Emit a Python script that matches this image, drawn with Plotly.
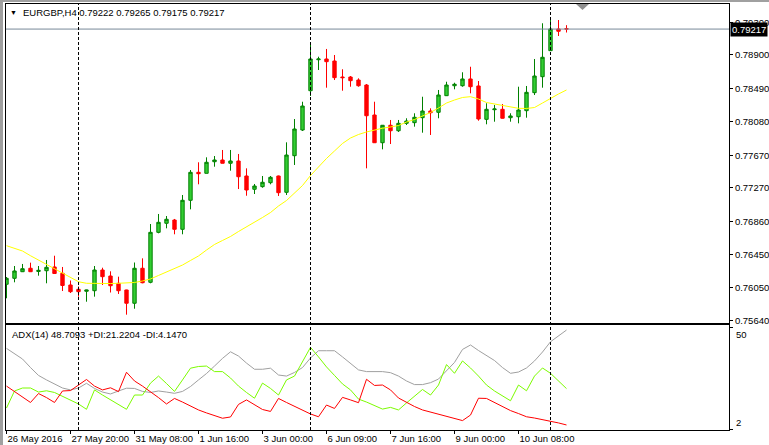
import plotly.graph_objects as go

# ---------------- data (EURGBP, H4) ----------------
symbol = "EURGBP,H4"
bars = list(range(71))

open_ = [0.76087, 0.76160, 0.76241, 0.76283, 0.76244, 0.76253, 0.76299, 0.76222, 0.76078, 0.76025,
         0.76001, 0.76008, 0.76262, 0.76188, 0.76099, 0.76017, 0.75854, 0.76283, 0.76111, 0.76724,
         0.76835, 0.76875, 0.76761, 0.77117, 0.77460, 0.77448, 0.77590, 0.77611, 0.77571, 0.77599,
         0.77415, 0.77252, 0.77284, 0.77333, 0.77415, 0.77215, 0.77664, 0.77979, 0.78461, 0.78841,
         0.78850, 0.78825, 0.78629, 0.78629, 0.78592, 0.78531, 0.78163, 0.77823, 0.78037, 0.77970,
         0.78061, 0.78069, 0.78130, 0.78212, 0.78196, 0.78400, 0.78522, 0.78522, 0.78605, 0.78519,
         0.78110, 0.78228, 0.78233, 0.78130, 0.78142, 0.78216, 0.78437, 0.78633, 0.78952, 0.79218,
         0.79222]
high = [0.76176, 0.76311, 0.76336, 0.76352, 0.76311, 0.76385, 0.76437, 0.76299, 0.76133, 0.76060,
        0.76020, 0.76311, 0.76290, 0.76246, 0.76180, 0.76020, 0.76354, 0.76405, 0.76826, 0.76949,
        0.76924, 0.76888, 0.77182, 0.77488, 0.77583, 0.77644, 0.77660, 0.77734, 0.77734, 0.77685,
        0.77509, 0.77317, 0.77415, 0.77415, 0.77420, 0.77828, 0.78114, 0.78326, 0.79034, 0.78878,
        0.78973, 0.78899, 0.78724, 0.78641, 0.78613, 0.78543, 0.78326, 0.78040, 0.78102, 0.78102,
        0.78123, 0.78184, 0.78387, 0.78245, 0.78470, 0.78571, 0.78559, 0.78687, 0.78755, 0.78580,
        0.78307, 0.78286, 0.78298, 0.78184, 0.78510, 0.78519, 0.78850, 0.79288, 0.79328, 0.79328,
        0.79265]
low = [0.75915, 0.76111, 0.76237, 0.76237, 0.76192, 0.76099, 0.76213, 0.76004, 0.75980, 0.75935,
       0.75873, 0.75935, 0.76078, 0.75986, 0.75968, 0.75714, 0.75787, 0.76099, 0.76099, 0.76712,
       0.76773, 0.76700, 0.76700, 0.77006, 0.77313, 0.77448, 0.77529, 0.77571, 0.77480, 0.77255,
       0.77173, 0.77194, 0.77271, 0.77313, 0.77170, 0.77182, 0.77550, 0.77967, 0.78396, 0.78715,
       0.78498, 0.78592, 0.78461, 0.78510, 0.78510, 0.77509, 0.77820, 0.77742, 0.77807, 0.77955,
       0.78040, 0.78020, 0.77946, 0.77918, 0.78123, 0.78396, 0.78478, 0.78510, 0.78429, 0.78093,
       0.78049, 0.78081, 0.78120, 0.78081, 0.78061, 0.78130, 0.78408, 0.78498, 0.78950, 0.79132,
       0.79175]
close = [0.76160, 0.76250, 0.76278, 0.76241, 0.76258, 0.76295, 0.76219, 0.76072, 0.75996, 0.75996,
         0.76017, 0.76262, 0.76180, 0.76069, 0.76008, 0.75854, 0.76283, 0.76106, 0.76724, 0.76847,
         0.76884, 0.76761, 0.77117, 0.77460, 0.77443, 0.77583, 0.77611, 0.77571, 0.77599, 0.77406,
         0.77243, 0.77292, 0.77338, 0.77399, 0.77210, 0.77672, 0.77991, 0.78273, 0.78850, 0.78850,
         0.78817, 0.78621, 0.78621, 0.78584, 0.78522, 0.78154, 0.77823, 0.78037, 0.77970, 0.78061,
         0.78089, 0.78135, 0.78212, 0.78191, 0.78408, 0.78531, 0.78540, 0.78605, 0.78510, 0.78114,
         0.78233, 0.78237, 0.78123, 0.78151, 0.78224, 0.78441, 0.78641, 0.78871, 0.79218, 0.79190,
         0.79217]
ma = [0.76560, 0.76528, 0.76495, 0.76437, 0.76385, 0.76332, 0.76280, 0.76225, 0.76172, 0.76118,
      0.76099, 0.76096, 0.76096, 0.76096, 0.76099, 0.76103, 0.76109, 0.76127, 0.76152, 0.76195,
      0.76237, 0.76280, 0.76323, 0.76379, 0.76434, 0.76507, 0.76575, 0.76624, 0.76673, 0.76734,
      0.76789, 0.76851, 0.76906, 0.76967, 0.77047, 0.77114, 0.77200, 0.77298, 0.77421, 0.77531,
      0.77630, 0.77722, 0.77814, 0.77881, 0.77924, 0.77955, 0.77979, 0.78001, 0.78016, 0.78034,
      0.78077, 0.78108, 0.78151, 0.78194, 0.78249, 0.78310, 0.78347, 0.78378, 0.78388, 0.78359,
      0.78316, 0.78298, 0.78280, 0.78261, 0.78245, 0.78243, 0.78255, 0.78310, 0.78368, 0.78421,
      0.78470]
adx = [40.1, 37.7, 35.1, 31.1, 27.4, 25.3, 23.4, 21.5, 20.6, 21.5,
       23.7, 21.3, 19.6, 18.7, 20.1, 21.4, 21.3, 19.9, 19.4, 20.1,
       19.6, 19.0, 19.9, 22.2, 25.3, 28.3, 31.8, 35.4, 38.5, 36.5,
       33.2, 30.3, 30.3, 30.8, 27.6, 27.1, 28.8, 31.1, 35.6, 39.0,
       39.0, 39.0, 36.1, 33.0, 30.0, 29.2, 29.2, 29.2, 28.7, 27.1,
       24.8, 23.1, 23.1, 24.0, 25.7, 29.7, 33.5, 39.6, 41.7, 39.1,
       36.8, 34.4, 31.1, 28.4, 29.0, 30.9, 34.2, 38.4, 43.2, 46.1,
       48.7093]
plus_di = [12.1, 20.1, 21.5, 21.5, 19.6, 20.2, 19.4, 17.7, 15.9, 14.0,
           11.5, 20.6, 18.2, 15.9, 13.8, 11.5, 18.2, 18.2, 23.8, 27.1,
           23.6, 19.9, 25.3, 30.8, 31.6, 31.8, 29.2, 29.2, 26.2, 22.4,
           19.4, 16.7, 23.8, 21.3, 18.2, 25.3, 27.1, 33.7, 40.6, 36.1,
           31.4, 27.4, 23.4, 20.6, 16.3, 14.9, 13.1, 11.6, 12.4, 11.2,
           14.5, 17.7, 20.8, 18.2, 22.9, 32.5, 28.4, 34.2, 30.9, 27.1,
           22.9, 20.1, 17.7, 15.5, 22.9, 20.2, 27.1, 30.9, 28.4, 25.0,
           21.2204]
minus_di = [22.4, 19.7, 17.1, 14.7, 18.9, 17.0, 14.7, 20.1, 20.3, 22.9,
            25.5, 22.4, 20.6, 21.6, 19.8, 28.9, 24.8, 22.4, 19.9, 17.0,
            14.0, 16.6, 14.9, 13.1, 11.2, 9.8, 8.4, 7.3, 7.9, 13.8,
            15.9, 13.5, 11.4, 10.5, 16.6, 14.7, 12.8, 10.9, 9.3, 8.0,
            13.5, 11.9, 17.1, 15.9, 14.6, 25.6, 22.7, 22.9, 20.6, 16.8,
            14.7, 12.8, 11.2, 10.2, 9.3, 8.4, 7.2, 6.2, 8.8, 16.7,
            16.6, 14.7, 12.8, 10.9, 9.5, 8.0, 7.4, 6.7, 6.0, 5.1,
            4.1470]

time_tick_bars = [0, 8, 16, 24, 32, 40, 48, 56, 64]
time_tick_labels = ["26 May 2016", "27 May 20:00", "31 May 08:00", "1 Jun 16:00", "3 Jun 00:00",
                    "6 Jun 09:00", "7 Jun 16:00", "9 Jun 00:00", "10 Jun 08:00"]
price_ticks = [0.79300, 0.78900, 0.78490, 0.78080, 0.77670, 0.77270, 0.76860, 0.76450, 0.76050, 0.75640]
separator_bars = [9, 38, 68]
adx_scale_ticks = [50, 2]

# ---------------- layout helpers ----------------
W, H = 769, 445
ML, MR, MT, MB = 6, 40, 4, 15
PW, PH = W - ML - MR, H - MT - MB


def px_x(p):
    return (p - ML) / PW


def px_y(p):
    return (H - MB - p) / PH


FONT = "Liberation Sans, Arial, sans-serif"
FS = 9.5

fig = go.Figure()
fig.add_trace(go.Candlestick(
    x=bars, open=open_, high=high, low=low, close=close,
    increasing=dict(fillcolor="#32CD32", line=dict(color="#008000", width=1)),
    decreasing=dict(fillcolor="#FF0000", line=dict(color="#FF0000", width=1)),
    whiskerwidth=0, xaxis="x", yaxis="y", hoverinfo="skip", showlegend=False))
fig.add_trace(go.Scatter(x=bars, y=ma, mode="lines", line=dict(color="#FFFF00", width=1),
                         xaxis="x", yaxis="y", hoverinfo="skip"))
fig.add_trace(go.Scatter(x=bars, y=adx, mode="lines", line=dict(color="#A0A0A0", width=1),
                         xaxis="x2", yaxis="y2", hoverinfo="skip"))
fig.add_trace(go.Scatter(x=bars, y=plus_di, mode="lines", line=dict(color="#7CFC00", width=1),
                         xaxis="x2", yaxis="y2", hoverinfo="skip"))
fig.add_trace(go.Scatter(x=bars, y=minus_di, mode="lines", line=dict(color="#FF0000", width=1),
                         xaxis="x2", yaxis="y2", hoverinfo="skip"))

bar_px = 8.0
x0 = -0.0625
xr = [x0, x0 + PW / bar_px]
main_bottom_px, ind_top_px = 323, 325
y_main = [0.756119, 0.795245]
y_ind = [1.78, 51.08]

axis_common = dict(showgrid=False, zeroline=False, showline=True, mirror=True,
                   linecolor="black", linewidth=1, tickcolor="black", automargin=False)

fig.update_layout(
    width=W, height=H, margin=dict(l=ML, r=MR, t=MT, b=MB, autoexpand=False),
    paper_bgcolor="white", plot_bgcolor="white", showlegend=False,
    font=dict(family=FONT, size=FS, color="black"),
    boxgap=0.4,
    xaxis=dict(domain=[0, 1], range=xr, anchor="y", showticklabels=False, ticks="",
               rangeslider=dict(visible=False), **axis_common),
    yaxis=dict(domain=[px_y(main_bottom_px), 1], range=y_main, side="right", anchor="x",
               tickvals=price_ticks, ticktext=[f"{v:.5f}" for v in price_ticks],
               ticks="outside", ticklen=3, tickangle=0, **axis_common),
    xaxis2=dict(domain=[0, 1], range=xr, anchor="y2", tickvals=time_tick_bars,
                ticktext=time_tick_labels, ticks="outside", ticklen=3, tickangle=0,
                ticklabelposition="outside right", **axis_common),
    yaxis2=dict(domain=[0, px_y(ind_top_px)], range=y_ind, side="right", anchor="x2",
                tickvals=adx_scale_ticks, showticklabels=False, ticks="outside", ticklen=3,
                **axis_common),
)

shapes = []
# bid line
shapes.append(dict(type="line", xref="paper", yref="y", x0=0, x1=1, y0=close[-1], y1=close[-1],
                   line=dict(color="#778899", width=1)))
# period separators
for b in separator_bars:
    shapes.append(dict(type="line", xref="x", yref="paper", x0=b, x1=b, y0=0, y1=1,
                       line=dict(color="black", width=1, dash="3px,2px")))
# window frame (gray)
shapes.append(dict(type="rect", xref="paper", yref="paper", x0=px_x(0), x1=px_x(3),
                   y0=px_y(445), y1=px_y(0), fillcolor="#A0A0A0", line=dict(width=0)))
shapes.append(dict(type="rect", xref="paper", yref="paper", x0=px_x(0), x1=px_x(769),
                   y0=px_y(2), y1=px_y(0), fillcolor="#A0A0A0", line=dict(width=0)))
# chart shift marker
sx = [576, 589, 582.5]
sy = [4, 4, 10]
path = "M {} {} L {} {} L {} {} Z".format(px_x(sx[0]), px_y(sy[0]), px_x(sx[1]), px_y(sy[1]),
                                           px_x(sx[2]), px_y(sy[2]))
shapes.append(dict(type="path", xref="paper", yref="paper", path=path,
                   fillcolor="#909090", line=dict(width=0)))
fig.update_layout(shapes=shapes)

annotations = [
    dict(text="▼", xref="paper", yref="paper", x=px_x(8), y=px_y(13), xanchor="left",
         yanchor="middle", showarrow=False, font=dict(size=7, color="black")),
    dict(text=f"{symbol} {open_[-1]:.5f} {high[-1]:.5f} {low[-1]:.5f} {close[-1]:.5f}",
         xref="paper", yref="paper", x=px_x(21), y=px_y(13), xanchor="left", yanchor="middle",
         showarrow=False),
    dict(text=f"ADX(14) {adx[-1]:.4f} +DI:{plus_di[-1]:.4f} -DI:{minus_di[-1]:.4f}",
         xref="paper", yref="paper", x=px_x(10), y=px_y(334), xanchor="left", yanchor="middle",
         showarrow=False),
    dict(text=f"{close[-1]:.5f}", xref="paper", yref="y", x=1, y=close[-1], xanchor="left",
         yanchor="middle", xshift=1, showarrow=False, bgcolor="black", borderpad=1,
         font=dict(color="white")),
    dict(text=str(adx_scale_ticks[0]), xref="paper", yref="y2", x=1, y=adx_scale_ticks[0],
         xanchor="left", yanchor="top", xshift=5, showarrow=False),
    dict(text=str(adx_scale_ticks[1]), xref="paper", yref="y2", x=1, y=adx_scale_ticks[1],
         xanchor="left", yanchor="bottom", xshift=5, showarrow=False),
]
fig.update_layout(annotations=annotations)

fig.write_html("out.html")
